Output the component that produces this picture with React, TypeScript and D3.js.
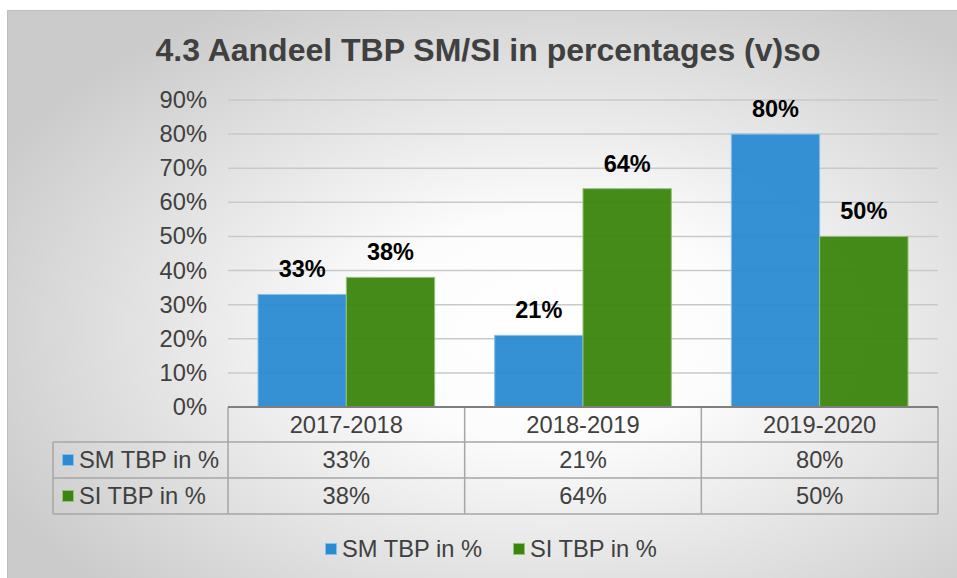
// bar chart with data table, drawn with d3
import * as d3 from "d3";
import { useEffect, useRef } from "react";

const categories = ["2017-2018", "2018-2019", "2019-2020"];
const seriesNames = ["SM TBP in %", "SI TBP in %"];
const smValues = [33, 21, 80];
const siValues = [38, 64, 50];
const yTicks = [0, 10, 20, 30, 40, 50, 60, 70, 80, 90];
const colors = ["#2a8bd2", "#3a850e"];
const strokes = ["#86c0ea", "#94c27c"];

export default function App() {
  const svgRef = useRef<SVGSVGElement>(null);

  useEffect(() => {
    document.body.style.margin = "0";
    const W = 957;
    const H = 578;
    const font = "'Liberation Sans', Arial, sans-serif";
    const fs = "23.7px";

    const svg = d3.select(svgRef.current);
    svg.selectAll("*").remove();
    svg.attr("width", W).attr("height", H);

    // background gradient
    const defs = svg.append("defs");
    const grad = defs
      .append("radialGradient")
      .attr("id", "bg")
      .attr("cx", 0.57)
      .attr("cy", 0.55)
      .attr("r", 0.65);
    grad.append("stop").attr("offset", "0").attr("stop-color", "#ffffff");
    grad.append("stop").attr("offset", "0.3").attr("stop-color", "#fcfcfc");
    grad.append("stop").attr("offset", "1").attr("stop-color", "#cbcbcb");

    svg.append("rect").attr("width", W).attr("height", H).attr("fill", "#ffffff");
    svg
      .append("rect")
      .attr("x", 7.5)
      .attr("y", 10.5)
      .attr("width", W)
      .attr("height", H)
      .attr("fill", "url(#bg)")
      .attr("stroke", "#bdbdbd")
      .attr("stroke-width", 1);

    // title
    svg
      .append("text")
      .attr("x", 488)
      .attr("y", 61)
      .attr("text-anchor", "middle")
      .style("font-family", font)
      .style("font-weight", "bold")
      .style("font-size", "32px")
      .style("fill", "#404040")
      .text("4.3 Aandeel TBP SM/SI in percentages (v)so");

    const left = 228;
    const right = 938;
    const x0 = d3.scaleBand().domain(categories).range([left, right]);
    const x1 = d3
      .scaleBand()
      .domain(seriesNames)
      .range([30, x0.bandwidth() - 30]);
    const y = d3.scaleLinear().domain([0, 90]).range([407, 100]);

    // gridlines
    svg
      .append("g")
      .selectAll("line")
      .data(yTicks.slice(1))
      .enter()
      .append("line")
      .attr("x1", left)
      .attr("x2", right)
      .attr("y1", (d) => y(d))
      .attr("y2", (d) => y(d))
      .attr("stroke", "#c9c9c9")
      .attr("stroke-width", 1.5);

    // y tick labels
    svg
      .append("g")
      .selectAll("text")
      .data(yTicks)
      .enter()
      .append("text")
      .attr("x", 207)
      .attr("y", (d) => y(d) + 8)
      .attr("text-anchor", "end")
      .style("font-family", font)
      .style("font-size", fs)
      .style("fill", "#404040")
      .text((d) => d + "%");

    const series = [smValues, siValues];

    // bars
    series.forEach((vals, si) => {
      svg
        .append("g")
        .selectAll("rect")
        .data(vals)
        .enter()
        .append("rect")
        .attr("x", (d, i) => (x0(categories[i]) as number) + (x1(seriesNames[si]) as number))
        .attr("y", (d) => y(d))
        .attr("width", x1.bandwidth())
        .attr("height", (d) => y(0) - y(d))
        .attr("fill", colors[si])
        .attr("fill-opacity", 0.95)
        .attr("stroke", strokes[si])
        .attr("stroke-width", 1);

      svg
        .append("g")
        .selectAll("text")
        .data(vals)
        .enter()
        .append("text")
        .attr(
          "x",
          (d, i) =>
            (x0(categories[i]) as number) +
            (x1(seriesNames[si]) as number) +
            x1.bandwidth() / 2
        )
        .attr("y", (d) => y(d) - 17)
        .attr("text-anchor", "middle")
        .style("font-family", font)
        .style("font-weight", "bold")
        .style("font-size", "23.5px")
        .style("fill", "#000000")
        .text((d) => d + "%");
    });

    // data table
    const rows = [407, 442, 478, 514];
    const tableLeft = 53;
    const tbl = svg.append("g").attr("stroke", "#a6a6a6").attr("stroke-width", 1.5);
    tbl.append("line").attr("x1", left).attr("x2", left).attr("y1", rows[0]).attr("y2", rows[3]);
    categories.forEach((c) => {
      const xe = (x0(c) as number) + x0.bandwidth();
      tbl.append("line").attr("x1", xe).attr("x2", xe).attr("y1", rows[0]).attr("y2", rows[3]);
    });
    tbl.append("line").attr("x1", tableLeft).attr("x2", tableLeft).attr("y1", rows[1]).attr("y2", rows[3]);
    [rows[1], rows[2], rows[3]].forEach((ry) => {
      tbl.append("line").attr("x1", tableLeft).attr("x2", right).attr("y1", ry).attr("y2", ry);
    });

    // axis line
    svg
      .append("line")
      .attr("x1", left)
      .attr("x2", right)
      .attr("y1", y(0))
      .attr("y2", y(0))
      .attr("stroke", "#7f7f7f")
      .attr("stroke-width", 2);

    const cellText = (xc: number, yc: number, t: string, anchor = "middle") =>
      svg
        .append("text")
        .attr("x", xc)
        .attr("y", yc + 8)
        .attr("text-anchor", anchor)
        .style("font-family", font)
        .style("font-size", fs)
        .style("fill", "#404040")
        .text(t);

    categories.forEach((c, i) => {
      const xc = (x0(c) as number) + x0.bandwidth() / 2;
      cellText(xc, (rows[0] + rows[1]) / 2, c);
      series.forEach((vals, si) => {
        cellText(xc, (rows[si + 1] + rows[si + 2]) / 2, vals[i] + "%");
      });
    });

    seriesNames.forEach((name, si) => {
      const yc = (rows[si + 1] + rows[si + 2]) / 2;
      svg
        .append("rect")
        .attr("x", 62.5)
        .attr("y", yc - 5.5)
        .attr("width", 11)
        .attr("height", 11)
        .attr("fill", colors[si])
        .attr("stroke", strokes[si])
        .attr("stroke-width", 1);
      cellText(79, yc, name, "start");
    });

    // legend
    const legendX = [325, 513];
    seriesNames.forEach((name, si) => {
      svg
        .append("rect")
        .attr("x", legendX[si] + 0.5)
        .attr("y", 543.5)
        .attr("width", 11)
        .attr("height", 11)
        .attr("fill", colors[si])
        .attr("stroke", strokes[si])
        .attr("stroke-width", 1);
      svg
        .append("text")
        .attr("x", legendX[si] + 17)
        .attr("y", 557)
        .style("font-family", font)
        .style("font-size", fs)
        .style("fill", "#404040")
        .text(name);
    });
  }, [svgRef]);

  return <svg ref={svgRef} style={{ display: "block" }} />;
}
